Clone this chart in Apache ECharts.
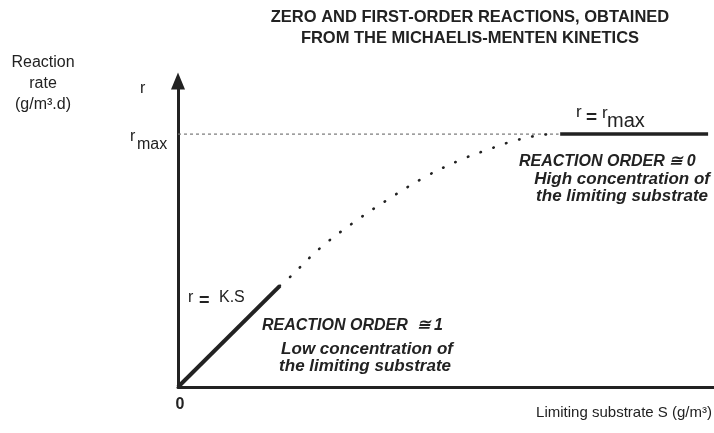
<!DOCTYPE html>
<html>
<head>
<meta charset="utf-8">
<script src="https://cdn.jsdelivr.net/npm/echarts@6/dist/echarts.min.js"></script>
<style>
  html, body { margin: 0; padding: 0; background: #fff; }
  #chart { width: 714px; height: 433px; }
</style>
</head>
<body>
<div id="chart"></div>
<script>
// normalised units: S from 0 to 10, r as a fraction of rmax
const firstOrderLine = [[0, 0], [1.9, 0.40]];
const mmCurve = [
  [1.9, 0.40], [2.09, 0.435], [2.65, 0.549], [3.26, 0.648], [3.9, 0.739],
  [4.57, 0.826], [5.26, 0.897], [5.76, 0.937], [6.25, 0.972], [6.75, 0.996], [7.03, 1.0]
];
const zeroOrderLine = [[7.13, 1], [9.89, 1]];
const rmaxGuide = [[0, 1], [7.1, 1]];

const FONT = '"Liberation Sans", Arial, sans-serif';
const INK = '#222';

function txt(x, y, text, opt) {
  opt = opt || {};
  return {
    type: 'text',
    x: x,
    y: y,
    style: {
      text: text,
      fill: opt.color || INK,
      font: (opt.style || '') + ' ' + (opt.weight || 'normal') + ' ' + (opt.size || 16) + 'px ' + (opt.family || FONT),
      textAlign: opt.align || 'left',
      textVerticalAlign: 'middle'
    }
  };
}

const chart = echarts.init(document.getElementById('chart'));

chart.setOption({
  backgroundColor: '#fff',
  animation: false,
  grid: { left: 178, right: 0, top: 81, bottom: 46 },
  xAxis: {
    type: 'value',
    min: 0,
    max: 10,
    axisLine: { show: true, lineStyle: { color: INK, width: 3 } },
    axisTick: { show: false },
    axisLabel: { show: false },
    splitLine: { show: false }
  },
  yAxis: {
    type: 'value',
    min: 0,
    max: 1.21,
    axisLine: {
      show: true,
      symbol: ['none', 'triangle'],
      symbolSize: [14, 17],
      lineStyle: { color: INK, width: 3 }
    },
    axisTick: { show: false },
    axisLabel: { show: false },
    splitLine: { show: false }
  },
  series: [{
    name: 'rmax guide',
    type: 'line',
    data: rmaxGuide,
    symbol: 'none',
    lineStyle: { color: '#777', width: 1.2, type: [3, 3] },
    z: 1
  }, {
    name: 'first order',
    type: 'line',
    data: firstOrderLine,
    symbol: 'none',
    lineStyle: { color: INK, width: 4 },
    z: 3
  }, {
    name: 'michaelis-menten',
    type: 'line',
    data: mmCurve,
    symbol: 'none',
    smooth: 0.4,
    lineStyle: { color: INK, width: 2.6, type: [0.5, 13], cap: 'round' },
    z: 2
  }, {
    name: 'zero order',
    type: 'line',
    data: zeroOrderLine,
    symbol: 'none',
    lineStyle: { color: INK, width: 3.5 },
    z: 3
  }],
  graphic: [
    txt(470, 17, 'ZERO AND FIRST-ORDER REACTIONS, OBTAINED', { weight: 'bold', size: 16.5, align: 'center' }),
    txt(470, 38, 'FROM THE MICHAELIS-MENTEN KINETICS', { weight: 'bold', size: 16.5, align: 'center' }),

    txt(43, 63, 'Reaction', { align: 'center' }),
    txt(43, 84, 'rate', { align: 'center' }),
    txt(43, 105, '(g/m³.d)', { align: 'center' }),

    txt(140, 89, 'r'),
    txt(130, 137, 'r'),
    txt(137, 145, 'max'),

    txt(576, 112, 'r', { size: 17 }),
    txt(586, 118, '=', { weight: 'bold', size: 19 }),
    txt(602, 113, 'r', { size: 17 }),
    txt(607, 121, 'max', { size: 20 }),

    txt(519, 162, 'REACTION ORDER ≅ 0', { style: 'italic', weight: 'bold', size: 16 }),
    txt(710, 179, 'High concentration of', { style: 'italic', weight: 'bold', size: 17, align: 'right' }),
    txt(708, 196, 'the limiting substrate', { style: 'italic', weight: 'bold', size: 17, align: 'right' }),

    txt(188, 298, 'r'),
    txt(199, 301, '=', { weight: 'bold', size: 18 }),
    txt(219, 298, 'K.S'),

    txt(262, 326, 'REACTION ORDER  ≅ 1', { style: 'italic', weight: 'bold', size: 16 }),
    txt(453, 349, 'Low concentration of', { style: 'italic', weight: 'bold', size: 17, align: 'right' }),
    txt(451, 366, 'the limiting substrate', { style: 'italic', weight: 'bold', size: 17, align: 'right' }),

    txt(180, 405, '0', { weight: 'bold', size: 16, align: 'center' }),
    txt(712, 413, 'Limiting substrate S (g/m³)', { size: 15, align: 'right' })
  ]
});
</script>
</body>
</html>
